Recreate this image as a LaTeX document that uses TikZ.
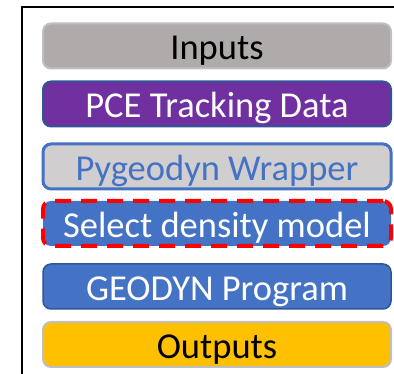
\documentclass[tikz,border=0pt]{standalone}
\usepackage{fontspec}
\setmainfont{Carlito}

\definecolor{inputgray}{HTML}{AFABAB}
\definecolor{lightgray}{HTML}{D0CECE}
\definecolor{edgegray}{HTML}{BFBFBF}
\definecolor{pcepurple}{HTML}{7030A0}
\definecolor{pyblue}{HTML}{4472C4}
\definecolor{darkblue}{HTML}{2F5597}
\definecolor{outgold}{HTML}{FFC000}
\definecolor{dashred}{HTML}{FF0000}

\tikzset{
  stage/.style={rounded corners=8pt, minimum width=348pt, minimum height=45pt,
    inner sep=0pt, text height=28pt, text depth=0pt,
    font=\fontsize{36.5}{40}\selectfont},
  graystage/.style={stage, fill=inputgray, draw=edgegray, line width=2pt},
  purplestage/.style={stage, fill=pcepurple, draw=darkblue, line width=2pt, text=white},
  wrapstage/.style={stage, fill=lightgray, draw=pyblue, line width=3pt, text=pyblue},
  modelstage/.style={stage, fill=pyblue, draw=dashred, line width=4pt,
    dash pattern=on 16pt off 10pt, text=white},
  progstage/.style={stage, fill=pyblue, draw=darkblue, line width=1.5pt, text=white},
  goldstage/.style={stage, fill=outgold, draw=edgegray, line width=2pt},
}

\begin{document}
\begin{tikzpicture}[x=1pt, y=1pt]
\useasboundingbox (0,0) rectangle (394,-374);
\clip (0,0) rectangle (394,-374);

% frame round the stages
\draw[line width=2.5pt] (22,-380) -- (22,-7) -- (400,-7);

\node[graystage] (inputs) at (217,-46) {Inputs};
\node[purplestage] (pce) at (217,-104) {PCE Tracking Data};
\node[wrapstage] (wrapper) at (217,-166.5) {Pygeodyn Wrapper};
\node[modelstage] (density) at (217,-223.5) {Select density model};
\node[progstage] (geodyn) at (217,-286.5) {GEODYN Program};
\node[goldstage] (outputs) at (217,-344.5) {Outputs};
\end{tikzpicture}
\end{document}
